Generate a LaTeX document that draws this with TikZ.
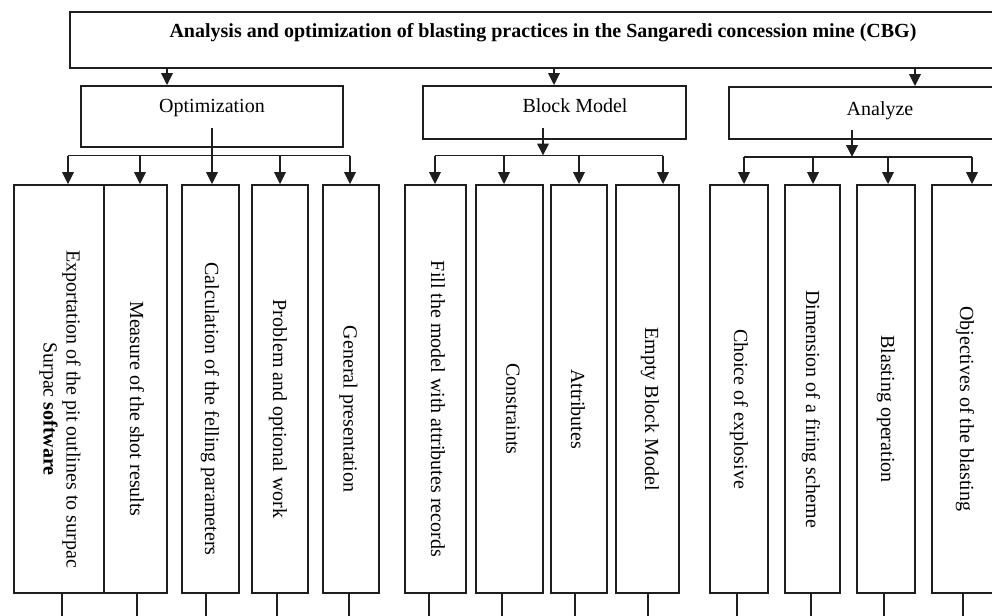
\documentclass[tikz,border=0pt]{standalone}
\usepackage{fontspec}
\setmainfont{Liberation Serif}
\usetikzlibrary{arrows.meta}
\definecolor{ink}{RGB}{30,30,30}
\begin{document}
\begin{tikzpicture}[x=1pt,y=-1pt,
  box/.style={draw=ink, line width=1.8pt, rectangle, inner sep=0pt},
  lbl/.style={font=\fontsize{20}{23}\selectfont, inner sep=0pt, text=black},
  vlbl/.style={lbl, rotate=-90, align=center},
  arr/.style={draw=ink, line width=2pt, -{Triangle[length=12pt,width=11.5pt]}},
  ln/.style={draw=ink, line width=1.8pt}]
\useasboundingbox (0,0) rectangle (992,615);
\clip (0,0) rectangle (992,615);

% top box
\node[box, minimum width=950, minimum height=56] (top) at (545,40) {};
\node[lbl, font=\fontsize{20}{23}\selectfont\bfseries, anchor=base] (title) at (543,38)
  {Analysis and optimization of blasting practices in the Sangaredi concession mine (CBG)};

% second level
\node[box, minimum width=262, minimum height=61] (opt) at (212,116.5) {};
\node[lbl, anchor=base] (optt) at (212,113) {Optimization};
\node[box, minimum width=263, minimum height=53] (blk) at (554.5,112.5) {};
\node[lbl, anchor=base] (blkt) at (575,113) {Block Model};
\node[box, minimum width=302, minimum height=52] (ana) at (880,113) {};
\node[lbl, anchor=base] (anat) at (880,115) {Analyze};

% bottom boxes
\node[box, minimum width=90, minimum height=408] (b1) at (59,389) {};
\node[box, minimum width=63, minimum height=408] (b2) at (135.5,389) {};
\node[box, minimum width=57, minimum height=408] (b3) at (210.5,389) {};
\node[box, minimum width=56, minimum height=408] (b4) at (280,389) {};
\node[box, minimum width=56, minimum height=408] (b5) at (351,389) {};
\node[box, minimum width=61, minimum height=408] (b6) at (435.5,389) {};
\node[box, minimum width=67, minimum height=408] (b7) at (509.5,389) {};
\node[box, minimum width=56, minimum height=408] (b8) at (579,389) {};
\node[box, minimum width=63, minimum height=408] (b9) at (647.5,389) {};
\node[box, minimum width=58, minimum height=408] (b10) at (739,389) {};
\node[box, minimum width=55, minimum height=408] (b11) at (812.5,389) {};
\node[box, minimum width=58, minimum height=408] (b12) at (886,389) {};
\node[box, minimum width=70, minimum height=408] (b13) at (967,389) {};

% vertical labels
\node[vlbl] (t1) at (60,409) {Exportation of the pit outlines to surpac\\Surpac \textbf{software}};
\node[vlbl] (t2) at (137,409) {Measure of the shot results};
\node[vlbl] (t3) at (210,409) {Calculation of the felling parameters};
\node[vlbl] (t4) at (278,409) {Problem and optional work};
\node[vlbl] (t5) at (348.5,409) {General presentation};
\node[vlbl] (t6) at (438,409) {Fill the model with attributes records};
\node[vlbl] (t7) at (513,409) {Constraints};
\node[vlbl] (t8) at (578,409) {Attributes};
\node[vlbl] (t9) at (650,409) {Empty Block Model};
\node[vlbl] (t10) at (739,409) {Choice of explosive};
\node[vlbl] (t11) at (811,409) {Dimension of a firing scheme};
\node[vlbl] (t12) at (886,409) {Blasting operation};
\node[vlbl] (t13) at (965,409) {Objectives of the blasting};

% top arrows
\coordinate (a1) at (167,0);
\coordinate (a2) at (554,0);
\coordinate (a3) at (915,0);
\draw[arr] (top.south -| a1) -- (opt.north -| a1);
\draw[arr] (top.south -| a2) -- (blk.north -| a2);
\draw[arr] (top.south -| a3) -- (ana.north -| a3);

% Optimization distribution
\coordinate (os) at (212,128);
\coordinate (oa) at (68,155.5);
\coordinate (ob) at (140,155.5);
\coordinate (oc) at (212,155.5);
\coordinate (od) at (280,155.5);
\coordinate (oe) at (350,155.5);
\draw[arr] (os) -- (oc |- b3.north);
\draw[ln] (oa) -- (oe);
\draw[arr] (oa) -- (oa |- b1.north);
\draw[arr] (ob) -- (ob |- b2.north);
\draw[arr] (od) -- (od |- b4.north);
\draw[arr] (oe) -- (oe |- b5.north);

% Block Model distribution
\coordinate (bs) at (543,128);
\coordinate (bj) at (543,155.5);
\coordinate (ba) at (435,155.5);
\coordinate (bb) at (504,155.5);
\coordinate (bc) at (579,155.5);
\coordinate (bd) at (663,155.5);
\draw[arr] (bs) -- (bj);
\draw[ln] (ba) -- (bd);
\draw[arr] (ba) -- (ba |- b6.north);
\draw[arr] (bb) -- (bb |- b7.north);
\draw[arr] (bc) -- (bc |- b8.north);
\draw[arr] (bd) -- (bd |- b9.north);

% Analyze distribution
\coordinate (as) at (852,130);
\coordinate (aj) at (852,157);
\coordinate (aa) at (744,157);
\coordinate (ab) at (813,157);
\coordinate (ac) at (888,157);
\coordinate (ad) at (972,157);
\draw[arr] (as) -- (aj);
\draw[ln] (aa) -- (ad);
\draw[arr] (aa) -- (aa |- b10.north);
\draw[arr] (ab) -- (ab |- b11.north);
\draw[arr] (ac) -- (ac |- b12.north);
\draw[arr] (ad) -- (ad |- b13.north);

% lines below boxes
\coordinate (l1) at (62,625);
\coordinate (l2) at (137,625);
\coordinate (l3) at (206,625);
\coordinate (l4) at (277,625);
\coordinate (l5) at (349,625);
\coordinate (l6) at (429,625);
\coordinate (l7) at (502,625);
\coordinate (l8) at (575,625);
\coordinate (l9) at (648,625);
\coordinate (l10) at (737,625);
\coordinate (l11) at (811,625);
\coordinate (l12) at (884,625);
\coordinate (l13) at (963,625);
\draw[ln] (b1.south -| l1) -- (l1);
\draw[ln] (b2.south -| l2) -- (l2);
\draw[ln] (b3.south -| l3) -- (l3);
\draw[ln] (b4.south -| l4) -- (l4);
\draw[ln] (b5.south -| l5) -- (l5);
\draw[ln] (b6.south -| l6) -- (l6);
\draw[ln] (b7.south -| l7) -- (l7);
\draw[ln] (b8.south -| l8) -- (l8);
\draw[ln] (b9.south -| l9) -- (l9);
\draw[ln] (b10.south -| l10) -- (l10);
\draw[ln] (b11.south -| l11) -- (l11);
\draw[ln] (b12.south -| l12) -- (l12);
\draw[ln] (b13.south -| l13) -- (l13);
\end{tikzpicture}
\end{document}
